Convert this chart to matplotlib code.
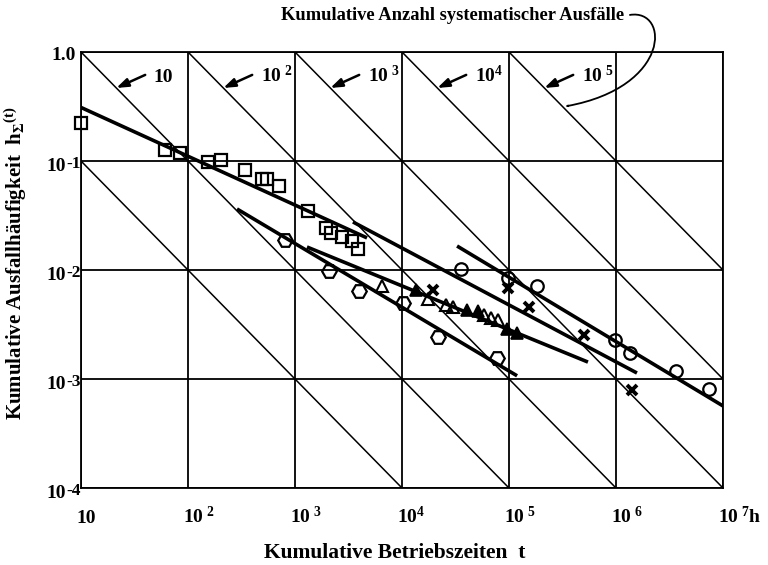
import numpy as np
import matplotlib
matplotlib.use("Agg")
import matplotlib.pyplot as plt
from matplotlib.path import Path
from matplotlib.patches import FancyArrowPatch
from matplotlib.transforms import blended_transform_factory, offset_copy

plt.rcParams["font.family"] = ["Liberation Serif", "DejaVu Serif"]
plt.rcParams["font.weight"] = "bold"
plt.rcParams["mathtext.fontset"] = "custom"
plt.rcParams["mathtext.rm"] = "Liberation Serif:bold"
plt.rcParams["mathtext.it"] = "Liberation Serif:bold"
plt.rcParams["mathtext.bf"] = "Liberation Serif:bold"

# ---- observed cumulative failure frequencies ----
sq_t = [10, 61, 84, 154, 203, 341, 492, 547, 708, 1320, 1950, 2170, 2750, 3410, 3880]
sq_h = [0.223, 0.126, 0.118, 0.098, 0.102, 0.083, 0.068, 0.068, 0.059,
        0.0348, 0.0243, 0.0218, 0.0201, 0.0185, 0.0156]

hex_t = [807, 2080, 3960, 10200, 21700, 77300]
hex_h = [0.0188, 0.0098, 0.0064, 0.00498, 0.00243, 0.00156]

circ_t = [35600, 98000, 183000, 980000, 1350000, 3640000, 7400000]
circ_h = [0.0102, 0.00845, 0.00713, 0.00228, 0.00173, 0.00118, 0.00081]

cross_t = [19500, 98000, 154000, 500000, 1410000]
cross_h = [0.00656, 0.00684, 0.00458, 0.00253, 0.00079]

tri_open_t = [6500, 17500, 25800, 30000, 58400, 67900, 78900]
tri_open_h = [0.00713, 0.00542, 0.00477, 0.00458, 0.00387, 0.00363, 0.00348]

tri_fill_t = [13500, 40500, 51300, 95700, 119000]
tri_fill_h = [0.00656, 0.00430, 0.00421, 0.00288, 0.00264]

# fitted trend lines (start, end)
trend_t = [(10, 4710), (287, 1.19e5), (1294, 5.47e5), (3480, 1.57e6), (32700, 1.04e7)]
trend_h = [(0.31, 0.0197), (0.0363, 0.00107), (0.01626, 0.00143),
           (0.0276, 0.001135), (0.0166, 0.000553)]

# lines of constant cumulative number of failures N = h * t
iso_exponents = [0, 1, 2, 3, 4, 5]
iso_labelled = [1, 2, 3, 4, 5]

x_decades = [1, 2, 3, 4, 5, 6, 7]
x_labels = ["10", r"10$^{\ 2}$", r"10$^{\ 3}$", r"10$^{4}$", r"10$^{\ 5}$",
            r"10$^{\ 6}$", r"10$^{\ 7}$h"]
y_decades = [0, -1, -2, -3, -4]
y_exp_labels = ["", "-1", "-2", "-3", "-4"]

fig = plt.figure(figsize=(7.68, 5.65), dpi=100)
ax = fig.add_axes([81 / 768, 1 - 488 / 565, 642 / 768, 436 / 565])
ax.set_xscale("log")
ax.set_yscale("log")
ax.set_xlim(10, 1e7)
ax.set_ylim(1e-4, 1)
ax.set_xticks([10.0 ** d for d in x_decades])
ax.set_yticks([10.0 ** d for d in y_decades])
ax.minorticks_off()
ax.tick_params(length=0, labelbottom=False, labelleft=False)
ax.grid(True, which="major", color="black", lw=1.3)
for s in ax.spines.values():
    s.set_linewidth(1.3)

# iso-failure diagonals
tt = np.logspace(1, 7, 200)
for k in iso_exponents:
    ax.plot(tt, 10.0 ** k / tt, color="black", lw=1.1, zorder=2)

# trend lines
for (t0, t1), (h0, h1) in zip(trend_t, trend_h):
    ax.plot([t0, t1], [h0, h1], color="black", lw=2.6, solid_capstyle="butt", zorder=3)

mk = dict(linestyle="none", markeredgecolor="black", zorder=4, clip_on=False)
ax.plot(sq_t, sq_h, marker="s", ms=8, mfc="none", mew=1.6, **mk)
ax.plot(hex_t, hex_h, marker="H", ms=10.5, mfc="none", mew=1.6, **mk)
ax.plot(circ_t, circ_h, marker="o", ms=9, mfc="none", mew=1.6, **mk)
ax.plot(cross_t, cross_h, marker="x", ms=7, mew=2.8, **mk)
ax.plot(tri_open_t, tri_open_h, marker="^", ms=8, mfc="none", mew=1.5, **mk)
ax.plot(tri_fill_t, tri_fill_h, marker="^", ms=8, mfc="black", mew=1.2, **mk)

# tick labels
xtrans = offset_copy(blended_transform_factory(ax.transData, ax.transAxes),
                     fig=fig, x=-5, y=0, units="dots")
for d, lab in zip(x_decades, x_labels):
    ax.text(10.0 ** d, -0.080, lab, transform=xtrans, ha="left", va="baseline",
            fontsize=14, clip_on=False)

ybase = blended_transform_factory(ax.transAxes, ax.transData)
for d, ex in zip(y_decades, y_exp_labels):
    if ex == "":
        ax.text(0, 10.0 ** d, "1.0",
                transform=offset_copy(ybase, fig=fig, x=-5, y=-8, units="dots"),
                ha="right", va="baseline", fontsize=14, clip_on=False)
    else:
        ax.text(0, 10.0 ** d, "10",
                transform=offset_copy(ybase, fig=fig, x=-15, y=-10, units="dots"),
                ha="right", va="baseline", fontsize=14, clip_on=False)
        ax.text(0, 10.0 ** d, ex,
                transform=offset_copy(ybase, fig=fig, x=-15, y=-7, units="dots"),
                ha="left", va="baseline", fontsize=12.5, clip_on=False)

# labels for the iso-failure lines with short arrows
for k in iso_labelled:
    tip = (10.0 ** (k + 0.33), 10.0 ** -0.33)
    tail = (10.0 ** (k + 0.60), 10.0 ** -0.21)
    ax.annotate("", xy=tip, xytext=tail,
                arrowprops=dict(arrowstyle="-|>,head_length=0.7,head_width=0.25",
                                color="black", lw=1.8, shrinkA=0, shrinkB=0),
                zorder=5)
    lab = "10" if k == 1 else (r"10$^{%d}$" % k if k == 4 else r"10$^{\ %d}$" % k)
    ax.text(10.0 ** (k + 0.68), 10.0 ** -0.275, lab, ha="left", va="baseline",
            fontsize=14, zorder=5)

# caption for the diagonals with a curved pointer
ax.text(10.0 ** 6.08, 10.0 ** 0.335, "Kumulative Anzahl systematischer Ausfälle",
        ha="right", va="center", fontsize=13.3, clip_on=False)
curve = Path([(10.0 ** 6.13, 10.0 ** 0.34), (10.0 ** 6.50, 10.0 ** 0.40),
              (10.0 ** 6.52, 10.0 ** -0.32), (10.0 ** 5.52, 10.0 ** -0.50)],
             [Path.MOVETO, Path.CURVE4, Path.CURVE4, Path.CURVE4])
ax.add_patch(FancyArrowPatch(path=curve, transform=ax.transData,
                             arrowstyle="-|>,head_length=0.7,head_width=0.25",
                             color="black", lw=1.3, clip_on=False, zorder=5))

fig.text(395 / 768, 1 - 553 / 565, "Kumulative Betriebszeiten  t",
         ha="center", va="center", fontsize=15.5)
fig.text(16 / 768, 1 - 263 / 565, r"Kumulative Ausfallhäufigkeit  h$_{\Sigma}$$^{(t)}$",
         ha="center", va="center", rotation=90, fontsize=15)

fig.savefig("out.png", dpi=100)
